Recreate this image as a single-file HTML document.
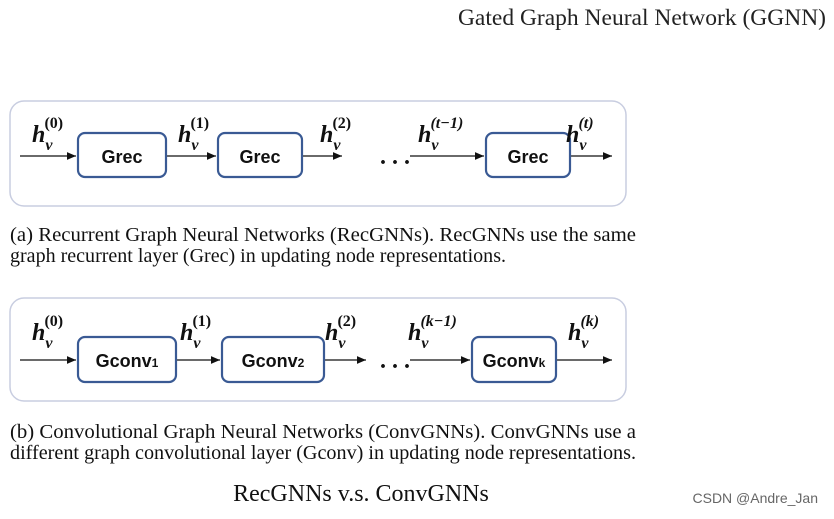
<html><body style="margin:0;background:#fff">
<svg width="834" height="519" xmlns="http://www.w3.org/2000/svg" font-family="Liberation Serif, serif">
<defs><marker id="a" markerWidth="8" markerHeight="8" refX="7" refY="4" orient="auto"><path d="M0,1 L7,4 L0,7z" fill="#111"/></marker></defs>
<text x="826" y="25" font-size="23.5" text-anchor="end" fill="#222">Gated Graph Neural Network (GGNN)</text>
<rect x="10" y="101" width="616" height="105" rx="14" fill="#fff" stroke="#c8cde0" stroke-width="1.5"/>
<g stroke="#111" stroke-width="1.3" marker-end="url(#a)">
<line x1="20" y1="156" x2="76" y2="156"/><line x1="166" y1="156" x2="216" y2="156"/>
<line x1="302" y1="156" x2="342" y2="156"/><line x1="410" y1="156" x2="484" y2="156"/>
<line x1="570" y1="156" x2="612" y2="156"/></g>
<g fill="#fff" stroke="#3a5a94" stroke-width="2.2">
<rect x="78" y="133" width="88" height="44" rx="7"/><rect x="218" y="133" width="84" height="44" rx="7"/><rect x="486" y="133" width="84" height="44" rx="7"/></g>
<g font-family="Liberation Sans, sans-serif" font-weight="bold" font-size="18" text-anchor="middle" fill="#111">
<text x="122" y="163">Grec</text><text x="260" y="163">Grec</text><text x="528" y="163">Grec</text></g>
<g font-weight="bold" fill="#111">
<text x="32" y="142" font-size="24" font-style="italic">h<tspan font-size="16" dy="8">v</tspan><tspan font-size="16" font-style="normal" dx="-8" dy="-22">(0)</tspan></text>
<text x="178" y="142" font-size="24" font-style="italic">h<tspan font-size="16" dy="8">v</tspan><tspan font-size="16" font-style="normal" dx="-8" dy="-22">(1)</tspan></text>
<text x="320" y="142" font-size="24" font-style="italic">h<tspan font-size="16" dy="8">v</tspan><tspan font-size="16" font-style="normal" dx="-8" dy="-22">(2)</tspan></text>
<text x="418" y="142" font-size="24" font-style="italic">h<tspan font-size="16" dy="8">v</tspan><tspan font-size="16" dx="-8" dy="-22">(t−1)</tspan></text>
<text x="566" y="142" font-size="24" font-style="italic">h<tspan font-size="16" dy="8">v</tspan><tspan font-size="16" dx="-8" dy="-22">(t)</tspan></text>
<text x="380" y="164" font-size="24">. . .</text>
<text x="32" y="340" font-size="24" font-style="italic">h<tspan font-size="16" dy="8">v</tspan><tspan font-size="16" font-style="normal" dx="-8" dy="-22">(0)</tspan></text>
<text x="180" y="340" font-size="24" font-style="italic">h<tspan font-size="16" dy="8">v</tspan><tspan font-size="16" font-style="normal" dx="-8" dy="-22">(1)</tspan></text>
<text x="325" y="340" font-size="24" font-style="italic">h<tspan font-size="16" dy="8">v</tspan><tspan font-size="16" font-style="normal" dx="-8" dy="-22">(2)</tspan></text>
<text x="408" y="340" font-size="24" font-style="italic">h<tspan font-size="16" dy="8">v</tspan><tspan font-size="16" dx="-8" dy="-22">(k−1)</tspan></text>
<text x="568" y="340" font-size="24" font-style="italic">h<tspan font-size="16" dy="8">v</tspan><tspan font-size="16" dx="-8" dy="-22">(k)</tspan></text>
<text x="380" y="368" font-size="24">. . .</text>
</g>
<g font-size="20" fill="#111">
<text x="10" y="241" textLength="626" lengthAdjust="spacingAndGlyphs">(a) Recurrent Graph Neural Networks (RecGNNs). RecGNNs use the same</text>
<text x="10" y="262" textLength="496" lengthAdjust="spacingAndGlyphs">graph recurrent layer (Grec) in updating node representations.</text>
</g>
<rect x="10" y="298" width="616" height="103" rx="14" fill="none" stroke="#c8cde0" stroke-width="1.5"/>
<g stroke="#111" stroke-width="1.3" marker-end="url(#a)">
<line x1="20" y1="360" x2="76" y2="360"/><line x1="176" y1="360" x2="220" y2="360"/>
<line x1="324" y1="360" x2="366" y2="360"/><line x1="410" y1="360" x2="470" y2="360"/>
<line x1="556" y1="360" x2="612" y2="360"/></g>
<g fill="#fff" stroke="#3a5a94" stroke-width="2.2">
<rect x="78" y="337" width="98" height="45" rx="7"/><rect x="222" y="337" width="102" height="45" rx="7"/><rect x="472" y="337" width="84" height="45" rx="7"/></g>
<g font-family="Liberation Sans, sans-serif" font-weight="bold" font-size="18" text-anchor="middle" fill="#111">
<text x="127" y="367">Gconv<tspan font-size="12">1</tspan></text><text x="273" y="367">Gconv<tspan font-size="12">2</tspan></text><text x="514" y="367">Gconv<tspan font-size="12">k</tspan></text></g>
<g font-size="20" fill="#111">
<text x="10" y="438" textLength="626" lengthAdjust="spacingAndGlyphs">(b) Convolutional Graph Neural Networks (ConvGNNs). ConvGNNs use a</text>
<text x="10" y="459" textLength="626" lengthAdjust="spacingAndGlyphs">different graph convolutional layer (Gconv) in updating node representations.</text>
</g>
<text x="361" y="501" font-size="24" text-anchor="middle" fill="#111">RecGNNs v.s. ConvGNNs</text>
<text x="818" y="503" font-size="14" text-anchor="end" fill="#666" font-family="Liberation Sans, sans-serif">CSDN @Andre_Jan</text>
</svg>
</body></html>
